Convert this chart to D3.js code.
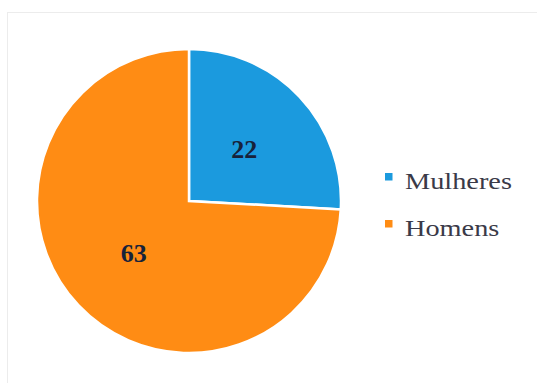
<!DOCTYPE html>
<html>
<head>
<meta charset="utf-8">
<script src="https://cdn.jsdelivr.net/npm/d3@7"></script>
<style>
  body { margin: 0; background: #fff; }
  svg { display: block; }
</style>
</head>
<body>
<svg id="chart" width="537" height="383"></svg>
<script>
const categories = ['Mulheres', 'Homens'];
const values = [22, 63];
const colors = ['#1b9ade', '#ff8c14'];

const svg = d3.select('#chart');
const W = 537, H = 383;
const cx = 189, cy = 201, R = 152;

// faint frame of the original figure
svg.append('rect')
  .attr('x', 7.5).attr('y', 12.5)
  .attr('width', W).attr('height', H)
  .attr('fill', 'none').attr('stroke', '#ececec');

const pie = d3.pie().sort(null).value(d => d.value);
const arcs = pie(categories.map((c, i) => ({ name: c, value: values[i] })));
const arc = d3.arc().innerRadius(0).outerRadius(R);

const g = svg.append('g').attr('transform', `translate(${cx},${cy})`);

g.selectAll('path')
  .data(arcs)
  .join('path')
  .attr('d', arc)
  .attr('fill', (d, i) => colors[i])
  .attr('stroke', '#fff')
  .attr('stroke-width', 2.5)
  .attr('stroke-linejoin', 'miter');

g.selectAll('text')
  .data(arcs)
  .join('text')
  .attr('transform', d => `translate(${arc.centroid(d)})`)
  .attr('text-anchor', 'middle')
  .attr('dy', '0.35em')
  .attr('font-family', '"Liberation Serif", "Times New Roman", serif')
  .attr('font-weight', 'bold')
  .attr('font-size', 26)
  .attr('fill', '#17223a')
  .text(d => d.data.value);

// legend
const legend = svg.append('g');
const yScale = d3.scalePoint().domain(categories).range([189, 236]);

const items = legend.selectAll('g')
  .data(categories)
  .join('g')
  .attr('transform', d => `translate(385,${yScale(d)})`);

items.append('rect')
  .attr('x', 0).attr('y', -16)
  .attr('width', 7.5).attr('height', 7.5)
  .attr('fill', (d, i) => colors[i]);

items.append('text')
  .attr('transform', 'translate(20,0) scale(1.18,1)')
  .attr('font-family', '"Liberation Serif", "Times New Roman", serif')
  .attr('font-size', 24)
  .attr('fill', '#3a3a48')
  .text(d => d);
</script>
</body>
</html>
